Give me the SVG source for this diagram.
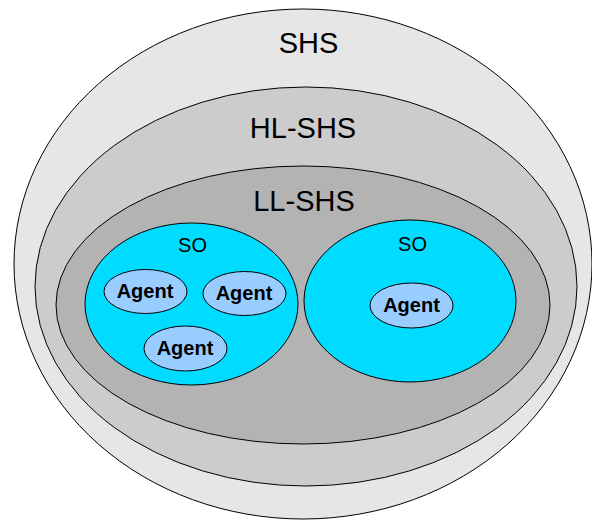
<svg xmlns="http://www.w3.org/2000/svg" width="592" height="520" viewBox="0 0 592 520">
<style>
.e{stroke:#000;stroke-width:1}
.t{font-family:"Liberation Sans",Arial,sans-serif;text-anchor:middle;fill:#000}
.big{font-size:29px}
.so{font-size:20px}
.ag{font-size:20px;font-weight:bold}
</style>
<rect width="592" height="520" fill="#fff"/>
<g id="SHS">
<ellipse class="e" cx="303" cy="264" rx="289" ry="255" fill="#e6e6e6"/>
<text class="t big" x="308.5" y="53">SHS</text>
</g>
<g id="HL-SHS">
<ellipse class="e" cx="306" cy="286.5" rx="271" ry="199.5" fill="#cccccc"/>
<text class="t big" x="303" y="138">HL-SHS</text>
</g>
<g id="LL-SHS">
<ellipse class="e" cx="303" cy="305" rx="247" ry="139" fill="#b3b3b3"/>
<text class="t big" x="304" y="211">LL-SHS</text>
</g>
<g id="SO1">
<ellipse class="e" cx="191.5" cy="304" rx="106.5" ry="81" fill="#00dcff"/>
<text class="t so" x="192.5" y="252">SO</text>
</g>
<g id="SO2">
<ellipse class="e" cx="410" cy="301" rx="106" ry="81" fill="#00dcff"/>
<text class="t so" x="412.5" y="251">SO</text>
</g>
<g id="Agent1">
<ellipse class="e" cx="145.5" cy="291.5" rx="41.5" ry="22" fill="#99ccff"/>
<text class="t ag" x="145" y="298">Agent</text>
</g>
<g id="Agent2">
<ellipse class="e" cx="244.5" cy="293.5" rx="41.5" ry="22" fill="#99ccff"/>
<text class="t ag" x="244" y="300">Agent</text>
</g>
<g id="Agent3">
<ellipse class="e" cx="185.5" cy="348.5" rx="41.5" ry="22.5" fill="#99ccff"/>
<text class="t ag" x="185" y="355">Agent</text>
</g>
<g id="Agent4">
<ellipse class="e" cx="411.5" cy="305.5" rx="41.5" ry="22.5" fill="#99ccff"/>
<text class="t ag" x="411.5" y="312">Agent</text>
</g>
<g id="connectors"></g>
</svg>
